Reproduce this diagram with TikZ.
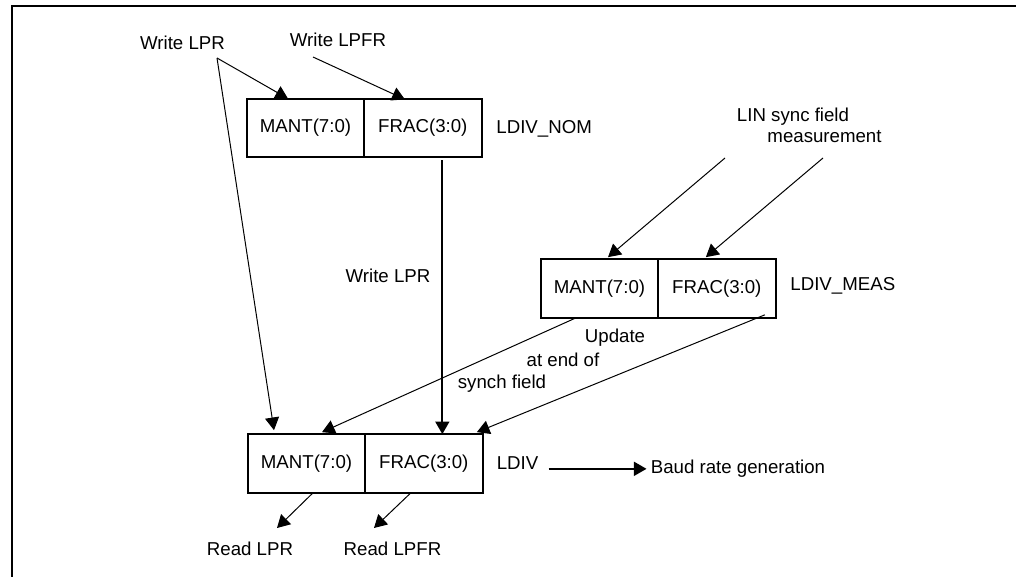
\documentclass[tikz,border=0pt]{standalone}
\usepackage{fontspec}
\setmainfont{Liberation Sans}
\usepackage{tikz}
\usetikzlibrary{arrows.meta, positioning, calc}
\tikzset{
  regbox/.style={draw, line width=1.5pt, minimum width=88pt, minimum height=44pt,
    inner sep=0pt, outer sep=0pt, font=\fontsize{14}{16}\selectfont},
  txt/.style={inner sep=0pt, font=\fontsize{14}{16}\selectfont},
  flow/.style={-{Triangle[length=9.5pt, width=10.5pt]}, line width=0.75pt},
  bigflow/.style={-{Triangle[length=9.5pt, width=10.5pt]}, line width=1.5pt}
}

\begin{document}
\begin{tikzpicture}[x=0.75pt, y=-0.75pt]
\useasboundingbox (0,0) rectangle (1016,577);
\draw[line width=1.5pt] (12,577) -- (12,6) -- (1016,6);
\node[regbox] (mantnom) at (305.5,128) {MANT(7:0)};
\node[regbox, right=0pt of mantnom] (fracnom) {FRAC(3:0)};
\node[txt, right=11pt of fracnom, yshift=-1pt] (nomlbl) {LDIV\_NOM};
\node[regbox] (mantmeas) at (599.5,288.5) {MANT(7:0)};
\node[regbox, right=0pt of mantmeas] (fracmeas) {FRAC(3:0)};
\node[txt, right=11pt of fracmeas, yshift=2pt] (measlbl) {LDIV\_MEAS};
\node[regbox] (mantdiv) at (306.5,463.5) {MANT(7:0)};
\node[regbox, right=0pt of mantdiv] (fracdiv) {FRAC(3:0)};
\node[txt, right=10.5pt of fracdiv] (divlbl) {LDIV};
\node[txt, right=84pt of divlbl, yshift=-4pt] (baud) {Baud rate generation};
\node[txt] (wlpr) at (182.5,43) {Write LPR};
\node[txt] (wlpfr) at (338,39.5) {Write LPFR};
\node[txt] (wlprmid) at (388,276) {Write LPR};
\node[txt] (linsync) at (793,117) {LIN sync field};
\node[txt] (linmeas) at (824.5,137) {measurement};
\node[txt] (upd) at (615,338) {Update};
\node[txt] (atend) at (563,360) {at end of};
\node[txt] (synch) at (502,384) {synch field};
\node[txt] (rdlpr) at (250,549) {Read LPR};
\node[txt] (rdlpfr) at (392.5,549) {Read LPFR};
\draw[flow] ($(wlpr)+(34.5,15)$) -- ($(mantnom.north)+(-17.5,0)$);
\draw[flow] ($(wlpr)+(34.5,15)$) -- ($(mantdiv.north)+(-32.5,-4)$);
\draw[flow] ($(wlpfr)+(-25,17.5)$) -- ($(fracnom.south)+(-18,-58)$);
\draw[bigflow] ($(fracnom.south)+(19.5,3)$) coordinate (nomout) -- (nomout |- fracdiv.north);
\draw[flow] ($(linmeas)+(-99.5,21)$) -- ($(mantmeas.north)+(8.5,-2)$);
\draw[flow] ($(linmeas)+(-1.5,21)$) -- ($(fracmeas.north)+(-11,-2)$);
\draw[flow] ($(mantmeas.south)+(-23.5,0)$) -- ($(mantdiv.north)+(15.5,-2)$);
\draw[flow] ($(fracmeas.south)+(48,-3)$) -- ($(fracdiv.north)+(53,-2)$);
\draw[flow] ($(mantdiv.south)+(6.5,0)$) -- ($(rdlpr)+(27,-21)$);
\draw[flow] ($(fracdiv.south)+(-13,0)$) -- ($(rdlpfr)+(-18.5,-21)$);
\draw[bigflow] ([xshift=7.5pt]divlbl.east |- baud.west) -- ([xshift=-3pt]baud.west);
\end{tikzpicture}
\end{document}
